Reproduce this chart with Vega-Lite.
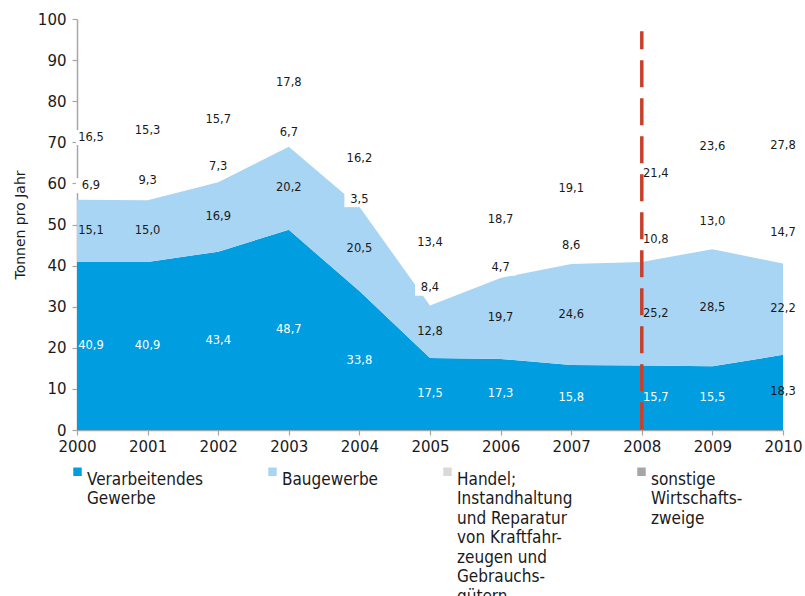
{
  "$schema": "https://vega.github.io/schema/vega-lite/v6.json",
  "width": 706,
  "height": 411,
  "autosize": {"type": "none"},
  "padding": {"left": 77, "top": 19, "right": 22, "bottom": 166},
  "background": "white",
  "config": {
    "view": {"stroke": null},
    "locale": {"number": {"decimal": ",", "thousands": ".", "grouping": [3], "currency": ["", " €"]}},
    "font": "DejaVu Sans",
    "axis": {
      "grid": false,
      "domainColor": "#a6a6a6",
      "domainWidth": 1.5,
      "tickColor": "#a6a6a6",
      "tickWidth": 1.2,
      "tickSize": 5,
      "labelFont": "DejaVu Sans",
      "labelFontSize": 15,
      "labelColor": "#1a1a1a",
      "titleFont": "DejaVu Sans",
      "titleFontWeight": "normal",
      "titleColor": "#1a1a1a"
    },
    "style": {"guide-label": {"lineHeight": 19.5}}
  },
  "datasets": {
    "tonnen": [
      {"year": 2000, "ord": 1, "series": "Verarbeitendes Gewerbe", "value": 40.9},
      {"year": 2001, "ord": 1, "series": "Verarbeitendes Gewerbe", "value": 40.9},
      {"year": 2002, "ord": 1, "series": "Verarbeitendes Gewerbe", "value": 43.4},
      {"year": 2003, "ord": 1, "series": "Verarbeitendes Gewerbe", "value": 48.7},
      {"year": 2004, "ord": 1, "series": "Verarbeitendes Gewerbe", "value": 33.8},
      {"year": 2005, "ord": 1, "series": "Verarbeitendes Gewerbe", "value": 17.5},
      {"year": 2006, "ord": 1, "series": "Verarbeitendes Gewerbe", "value": 17.3},
      {"year": 2007, "ord": 1, "series": "Verarbeitendes Gewerbe", "value": 15.8},
      {"year": 2008, "ord": 1, "series": "Verarbeitendes Gewerbe", "value": 15.7},
      {"year": 2009, "ord": 1, "series": "Verarbeitendes Gewerbe", "value": 15.5},
      {"year": 2010, "ord": 1, "series": "Verarbeitendes Gewerbe", "value": 18.3},
      {"year": 2000, "ord": 2, "series": "Baugewerbe", "value": 15.1},
      {"year": 2001, "ord": 2, "series": "Baugewerbe", "value": 15.0},
      {"year": 2002, "ord": 2, "series": "Baugewerbe", "value": 16.9},
      {"year": 2003, "ord": 2, "series": "Baugewerbe", "value": 20.2},
      {"year": 2004, "ord": 2, "series": "Baugewerbe", "value": 20.5},
      {"year": 2005, "ord": 2, "series": "Baugewerbe", "value": 12.8},
      {"year": 2006, "ord": 2, "series": "Baugewerbe", "value": 19.7},
      {"year": 2007, "ord": 2, "series": "Baugewerbe", "value": 24.6},
      {"year": 2008, "ord": 2, "series": "Baugewerbe", "value": 25.2},
      {"year": 2009, "ord": 2, "series": "Baugewerbe", "value": 28.5},
      {"year": 2010, "ord": 2, "series": "Baugewerbe", "value": 22.2},
      {"year": 2000, "ord": 3, "series": "Handel", "value": 6.9},
      {"year": 2001, "ord": 3, "series": "Handel", "value": 9.3},
      {"year": 2002, "ord": 3, "series": "Handel", "value": 7.3},
      {"year": 2003, "ord": 3, "series": "Handel", "value": 6.7},
      {"year": 2004, "ord": 3, "series": "Handel", "value": 3.5},
      {"year": 2005, "ord": 3, "series": "Handel", "value": 8.4},
      {"year": 2006, "ord": 3, "series": "Handel", "value": 4.7},
      {"year": 2007, "ord": 3, "series": "Handel", "value": 8.6},
      {"year": 2008, "ord": 3, "series": "Handel", "value": 10.8},
      {"year": 2009, "ord": 3, "series": "Handel", "value": 13.0},
      {"year": 2010, "ord": 3, "series": "Handel", "value": 14.7},
      {"year": 2000, "ord": 4, "series": "sonstige Wirtschaftszweige", "value": 16.5},
      {"year": 2001, "ord": 4, "series": "sonstige Wirtschaftszweige", "value": 15.3},
      {"year": 2002, "ord": 4, "series": "sonstige Wirtschaftszweige", "value": 15.7},
      {"year": 2003, "ord": 4, "series": "sonstige Wirtschaftszweige", "value": 17.8},
      {"year": 2004, "ord": 4, "series": "sonstige Wirtschaftszweige", "value": 16.2},
      {"year": 2005, "ord": 4, "series": "sonstige Wirtschaftszweige", "value": 13.4},
      {"year": 2006, "ord": 4, "series": "sonstige Wirtschaftszweige", "value": 18.7},
      {"year": 2007, "ord": 4, "series": "sonstige Wirtschaftszweige", "value": 19.1},
      {"year": 2008, "ord": 4, "series": "sonstige Wirtschaftszweige", "value": 21.4},
      {"year": 2009, "ord": 4, "series": "sonstige Wirtschaftszweige", "value": 23.6},
      {"year": 2010, "ord": 4, "series": "sonstige Wirtschaftszweige", "value": 27.8}
    ],
    "marker": [
      {"year": 2008, "top": 97, "bottom": 0}
    ]
  },
  "layer": [
    {
      "data": {"name": "tonnen"},
      "transform": [{"filter": "datum.ord <= 2"}],
      "mark": {"type": "area", "interpolate": "linear"},
      "encoding": {
        "x": {
          "field": "year", "type": "quantitative",
          "scale": {"domain": [2000, 2010], "nice": false, "zero": false},
          "axis": {"title": null, "format": "d", "values": [2000, 2001, 2002, 2003, 2004, 2005, 2006, 2007, 2008, 2009, 2010], "labelPadding": 4, "labelFlush": false}
        },
        "y": {
          "field": "value", "type": "quantitative", "stack": "zero",
          "scale": {"domain": [0, 100], "nice": false},
          "axis": {"title": "Tonnen pro Jahr", "titleFontSize": 14, "titlePadding": 10, "values": [0, 10, 20, 30, 40, 50, 60, 70, 80, 90, 100], "labelPadding": 6}
        },
        "color": {
          "field": "series", "type": "nominal",
          "scale": {
            "domain": ["Verarbeitendes Gewerbe", "Baugewerbe", "Handel", "sonstige Wirtschaftszweige"],
            "range": ["#009ee0", "#a9d5f4", "#d9d9d9", "#a6a6a6"]
          },
          "legend": {
            "title": null,
            "orient": "none",
            "legendX": -8,
            "legendY": 444,
            "direction": "horizontal",
            "columns": 4,
            "columnPadding": 60,
            "padding": 0,
            "symbolType": "square",
            "symbolSize": 72,
            "symbolStrokeWidth": 0,
            "labelFont": "DejaVu Sans Condensed, Liberation Sans Narrow, Liberation Sans",
            "labelFontSize": 17,
            "labelColor": "#1a1a1a",
            "labelBaseline": "top",
            "labelOffset": 1,
            "labelLimit": 300,
            "labelExpr": "datum.value == 'Verarbeitendes Gewerbe' ? ['Verarbeitendes', 'Gewerbe', '\u00a0', '\u00a0', '\u00a0', '\u00a0', '\u00a0'] : datum.value == 'Baugewerbe' ? ['Baugewerbe', '\u00a0', '\u00a0', '\u00a0', '\u00a0', '\u00a0', '\u00a0'] : datum.value == 'Handel' ? ['Handel;', 'Instandhaltung', 'und Reparatur', 'von Kraftfahr-', 'zeugen und', 'Gebrauchs-', 'gütern'] : ['sonstige', 'Wirtschafts-', 'zweige', '\u00a0', '\u00a0', '\u00a0', '\u00a0']"
          }
        },
        "order": {"field": "ord", "type": "quantitative"}
      }
    },
    {
      "data": {"name": "tonnen"},
      "transform": [
        {"stack": "value", "groupby": ["year"], "sort": [{"field": "ord", "order": "ascending"}], "as": ["v0", "v1"]},
        {"calculate": "(datum.v0 + datum.v1) / 2", "as": "mid"}
      ],
      "layer": [
        {
          "transform": [{"filter": "datum.ord >= 3 && datum.year != 2000 && datum.year != 2008"}],
          "mark": {"type": "point", "shape": "M-1,-0.5H1V0.5H-1Z", "filled": true, "fill": "white", "opacity": 1, "size": 900, "strokeWidth": 0},
          "encoding": {
            "x": {"field": "year", "type": "quantitative"},
            "y": {"field": "mid", "type": "quantitative"}
          }
        },
        {
          "transform": [{"filter": "datum.ord >= 3 && (datum.year == 2000 || datum.year == 2008)"}],
          "mark": {"type": "point", "shape": "M-1,-0.5H1V0.5H-1Z", "filled": true, "fill": "white", "opacity": 1, "size": 900, "strokeWidth": 0, "xOffset": 14},
          "encoding": {
            "x": {"field": "year", "type": "quantitative"},
            "y": {"field": "mid", "type": "quantitative"}
          }
        },
        {
          "transform": [{"filter": "datum.year != 2000 && datum.year != 2008"}],
          "mark": {"type": "text", "fontSize": 11.5, "font": "DejaVu Sans", "baseline": "middle"},
          "encoding": {
            "x": {"field": "year", "type": "quantitative"},
            "y": {"field": "mid", "type": "quantitative"},
            "text": {"field": "value", "type": "quantitative", "format": ".1f"},
            "color": {"condition": {"test": "datum.ord == 1 && datum.year < 2010", "value": "#ffffff"}, "value": "#1a1a1a"}
          }
        },
        {
          "transform": [{"filter": "datum.year == 2000 || datum.year == 2008"}],
          "mark": {"type": "text", "fontSize": 11.5, "font": "DejaVu Sans", "baseline": "middle", "dx": 14},
          "encoding": {
            "x": {"field": "year", "type": "quantitative"},
            "y": {"field": "mid", "type": "quantitative"},
            "text": {"field": "value", "type": "quantitative", "format": ".1f"},
            "color": {"condition": {"test": "datum.ord == 1 && datum.year < 2010", "value": "#ffffff"}, "value": "#1a1a1a"}
          }
        }
      ]
    },
    {
      "data": {"name": "marker"},
      "mark": {"type": "rule", "color": "#c8402b", "strokeWidth": 3.5, "strokeDash": [27, 11], "strokeDashOffset": 9},
      "encoding": {
        "x": {"field": "year", "type": "quantitative"},
        "y": {"field": "top", "type": "quantitative"},
        "y2": {"field": "bottom"}
      }
    }
  ]
}
